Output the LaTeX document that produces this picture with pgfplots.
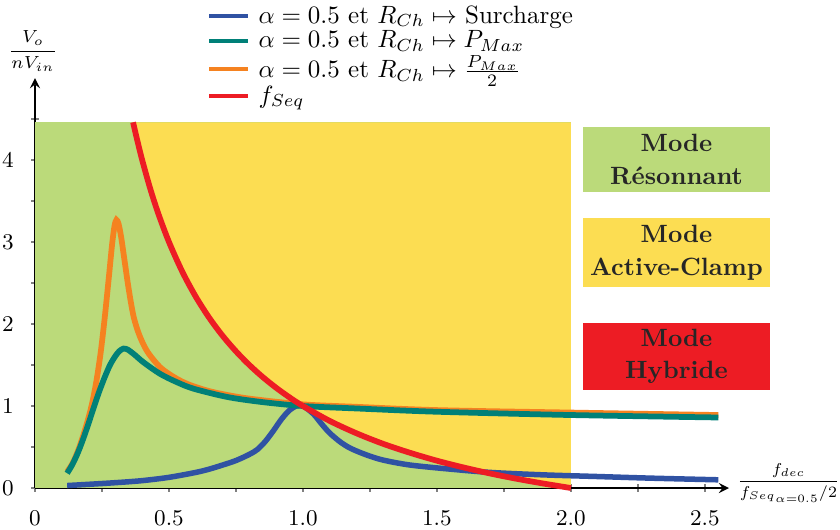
\documentclass[border=0pt]{standalone}
\usepackage{pgfplots}
\pgfplotsset{compat=1.18}
\definecolor{cgreen}{RGB}{187,218,122}
\definecolor{cyellow}{RGB}{252,221,82}
\definecolor{cred}{RGB}{237,28,36}
\definecolor{cblue}{RGB}{48,82,163}
\definecolor{cteal}{RGB}{0,128,120}
\definecolor{corange}{RGB}{245,130,32}
\begin{document}
\begin{tikzpicture}
\useasboundingbox (-14pt,-16.4pt) rectangle (322pt,195.2pt);
\begin{axis}[
 scale only axis, width=277.6pt, height=164pt,
 xmin=0, xmax=2.59, ymin=0, ymax=5,
 axis lines=left,
 axis line style={line width=0.8pt, black},
 xtick={0,0.5,1,1.5,2,2.5},
 xticklabels={$0$,$0.5$,$1.0$,$1.5$,$2.0$,$2.5$},
 ytick={0,1,2,3,4},
 minor xtick={0.25,0.75,1.25,1.75,2.25},
 minor ytick={0.5,1.5,2.5,3.5,4.5},
 tick style={gray, line width=0.5pt},
 major tick length=3pt, minor tick length=3pt,
 tick label style={font=\small},
 xticklabel style={yshift=-4pt},
 yticklabel style={xshift=-3.5pt},
 clip=false,
 legend style={draw=none, fill=none, at={(axis description cs:0.2475,1.178)}, anchor=north west,
   inner sep=0pt, row sep=1.6pt, column sep=3.2pt, font=\normalsize, nodes={inner sep=0pt}},
 legend cell align=left,
 legend image code/.code={\draw[#1, line width=1.7pt] (0pt,0pt) -- (15.6pt,0pt);},
]
% regions
\addplot[fill=cgreen, draw=none, forget plot] coordinates {(0,0) (2,0) (2,4.46) (0,4.46)} -- cycle;
\addplot[fill=cyellow, draw=none, forget plot] coordinates {
(0.366,4.46) (0.38,4.263) (0.4,4.0) (0.43,3.651) (0.46,3.348) (0.5,3.0) (0.55,2.636) (0.6,2.333)
(0.65,2.077) (0.7,1.857) (0.75,1.667) (0.8,1.5) (0.85,1.353) (0.9,1.222) (0.95,1.105) (1.0,1.0)
(1.1,0.818) (1.2,0.667) (1.3,0.538) (1.4,0.429) (1.5,0.333) (1.6,0.25) (1.7,0.176) (1.8,0.111)
(1.9,0.053) (2.0,0) (2.0,4.46)} -- cycle;
% curves
\addplot[cblue, line width=2.2pt, smooth] coordinates {
(0.12,0.03) (0.2,0.045) (0.3,0.065) (0.4,0.09) (0.5,0.13) (0.6,0.19) (0.65,0.23) (0.7,0.28)
(0.75,0.335) (0.8,0.41) (0.83,0.47) (0.86,0.57) (0.89,0.7) (0.92,0.84) (0.95,0.95) (0.975,1.0)
(0.99,1.01) (1.01,0.98) (1.04,0.9) (1.07,0.78) (1.1,0.67) (1.14,0.56) (1.18,0.48) (1.24,0.4)
(1.3,0.34) (1.4,0.28) (1.55,0.23) (1.7,0.19) (1.9,0.16) (2.1,0.14) (2.3,0.12) (2.55,0.1)};
\addlegendentry{$\alpha = 0.5$ et $R_{Ch} \mapsto$ Surcharge}
\addlegendimage{cteal, line width=2.3pt}
\addlegendentry{$\alpha = 0.5$ et $R_{Ch} \mapsto P_{Max}$}
\addplot[corange, line width=2.3pt, smooth] coordinates {
(0.12,0.2) (0.14,0.3) (0.16,0.45) (0.18,0.64) (0.2,0.86) (0.215,1.06) (0.23,1.32) (0.245,1.65)
(0.26,2.07) (0.275,2.55) (0.288,2.98) (0.297,3.2) (0.304,3.27) (0.312,3.22) (0.322,3.05)
(0.333,2.8) (0.35,2.42) (0.368,2.09) (0.39,1.86) (0.42,1.66) (0.468,1.47) (0.52,1.35) (0.568,1.27)
(0.63,1.2) (0.693,1.15) (0.8,1.09) (1.0,1.02) (1.2,0.99) (1.5,0.95) (2.0,0.92) (2.55,0.89)};
\addlegendentry{$\alpha = 0.5$ et $R_{Ch} \mapsto \frac{P_{Max}}{2}$}
\addplot[cteal, line width=2.3pt, smooth, forget plot] coordinates {
(0.12,0.18) (0.14,0.29) (0.16,0.43) (0.18,0.6) (0.2,0.79) (0.22,0.99) (0.24,1.18) (0.26,1.35)
(0.28,1.5) (0.3,1.61) (0.315,1.67) (0.33,1.7) (0.345,1.69) (0.37,1.63) (0.406,1.53) (0.468,1.39)
(0.53,1.29) (0.593,1.21) (0.718,1.11) (0.843,1.05) (1.0,1.0) (1.2,0.97) (1.5,0.93) (2.0,0.89)
(2.55,0.86)};
\addplot[cred, line width=2.3pt, smooth] coordinates {
(0.366,4.46) (0.38,4.263) (0.4,4.0) (0.43,3.651) (0.46,3.348) (0.5,3.0) (0.55,2.636) (0.6,2.333)
(0.65,2.077) (0.7,1.857) (0.75,1.667) (0.8,1.5) (0.85,1.353) (0.9,1.222) (0.95,1.105) (1.0,1.0)
(1.1,0.818) (1.2,0.667) (1.3,0.538) (1.4,0.429) (1.5,0.333) (1.6,0.25) (1.7,0.176) (1.8,0.111)
(1.9,0.053) (2.0,0)};
\addlegendentry{$f_{Seq}$}
\end{axis}
\node[fill=cgreen, minimum width=74.8pt, minimum height=26pt, align=center, font=\bfseries, text=black!85, inner sep=0pt] at (256.6pt,131.4pt) {Mode\\[1pt]Résonnant};
\node[fill=cyellow, minimum width=74.8pt, minimum height=27.6pt, align=center, font=\bfseries, text=black!85, inner sep=0pt] at (256.6pt,94.2pt) {Mode\\[1pt]Active-Clamp};
\node[fill=cred, minimum width=74.8pt, minimum height=26.8pt, align=center, font=\bfseries, text=black!85, inner sep=0pt] at (256.6pt,52.6pt) {Mode\\[1pt]Hybride};
\node at (-0.8pt,174.8pt) {\scriptsize $\displaystyle\frac{V_o}{nV_{in}}$};
\node[scale=0.9] at (301.4pt,2pt) {\scriptsize $\displaystyle\frac{f_{dec}}{{f_{Seq}}_{\alpha=0.5}/2}$};
\end{tikzpicture}
\end{document}
